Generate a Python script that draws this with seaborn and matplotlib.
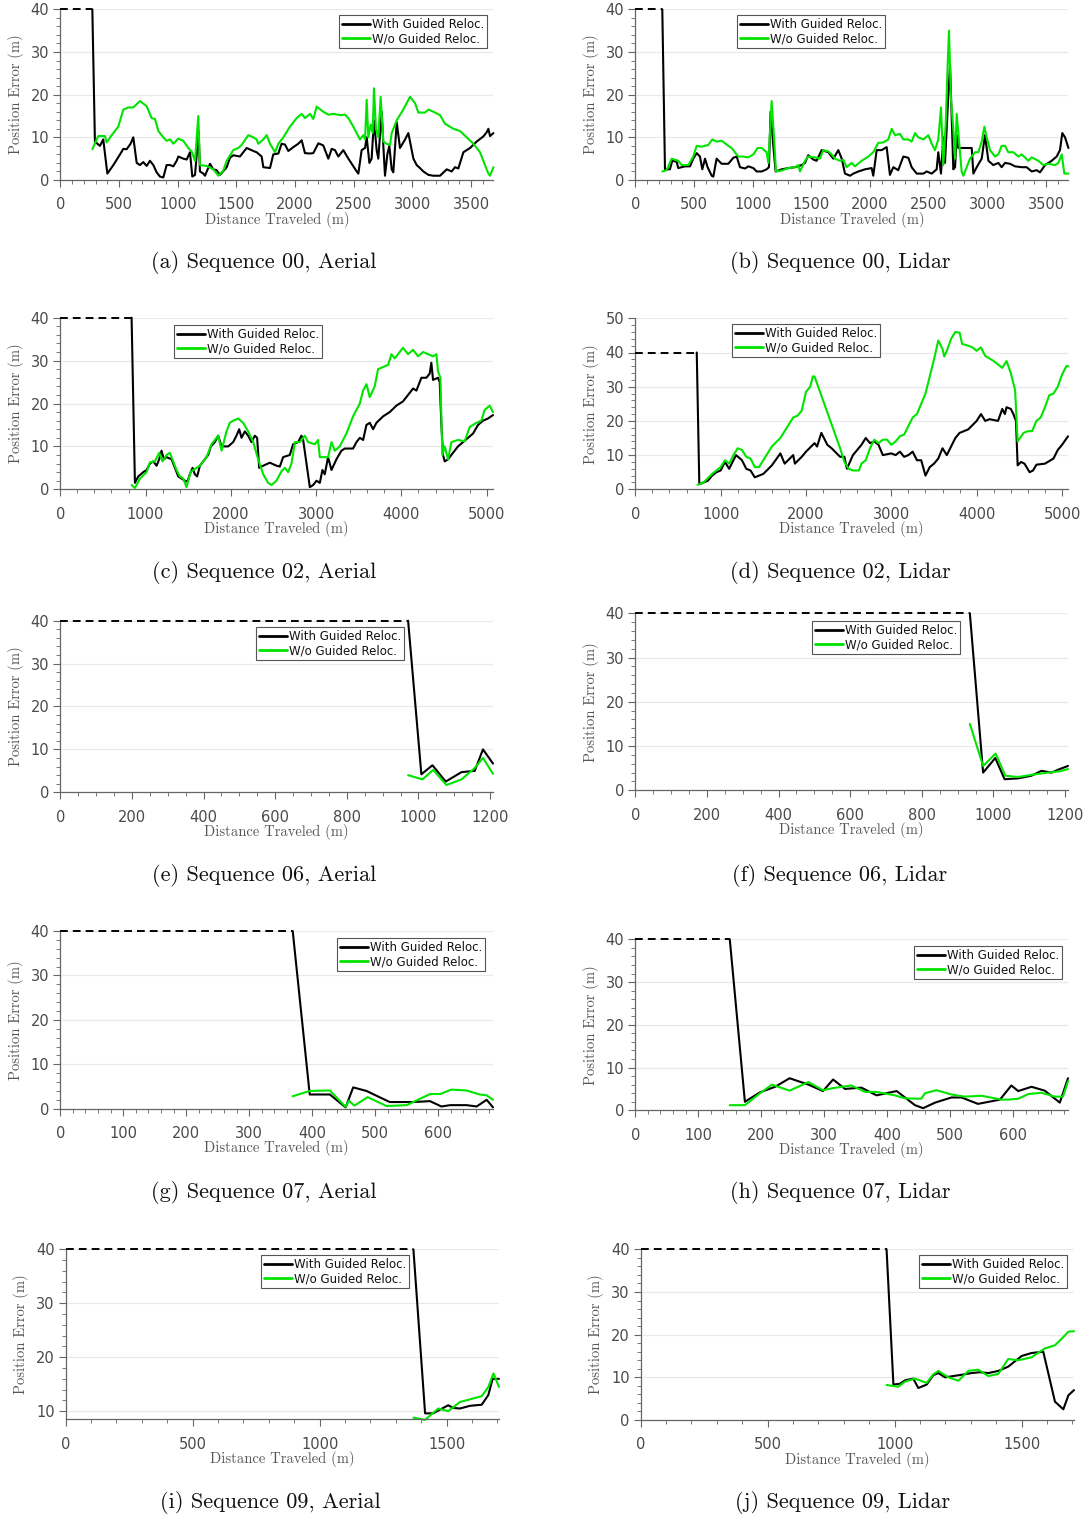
import matplotlib
matplotlib.use("Agg")
import matplotlib.pyplot as plt
from matplotlib.lines import Line2D
from matplotlib.ticker import MultipleLocator
import numpy as np
import pandas as pd
import seaborn as sns

WITH = "With Guided Reloc."
WO = "W/o Guided Reloc."
CAP = 40  # error value shown while the vehicle is not yet localised

captions = [
    "(a) Sequence 00, Aerial", "(b) Sequence 00, Lidar",
    "(c) Sequence 02, Aerial", "(d) Sequence 02, Lidar",
    "(e) Sequence 06, Aerial", "(f) Sequence 06, Lidar",
    "(g) Sequence 07, Aerial", "(h) Sequence 07, Lidar",
    "(i) Sequence 09, Aerial", "(j) Sequence 09, Lidar",
]

# distance at which localisation first succeeds (dashed segment before it)
lost_until = [273, 230, 836, 720, 971, 934, 369, 150, 1369, 968]

# ---------------- Sequence 00, Aerial ----------------
a_with_x = [273, 295, 338, 366, 401, 452, 509, 537, 565, 599, 622, 651, 679, 707, 736, 764, 793, 821, 849, 878,
            906, 935, 963, 992, 1006, 1048, 1077, 1105, 1125, 1148, 1179, 1190, 1219, 1233, 1276, 1304, 1332, 1361,
            1418, 1446, 1474, 1531, 1588, 1645, 1673, 1716, 1730, 1787, 1815, 1858, 1886, 1915, 1943, 1986, 2028,
            2057, 2085, 2128, 2156, 2199, 2241, 2284, 2313, 2341, 2369, 2412, 2455, 2526, 2540, 2568, 2597, 2611,
            2634, 2653, 2673, 2696, 2710, 2739, 2753, 2767, 2787, 2804, 2824, 2838, 2867, 2895, 2938, 2966, 3009,
            3037, 3065, 3094, 3137, 3179, 3236, 3293, 3335, 3364, 3392, 3435, 3492, 3548, 3605, 3634, 3648, 3662, 3691]
a_with_y = [40, 9, 8, 9.5, 1.5, 3.5, 6, 7.3, 7.2, 8.5, 10, 4, 3.5, 4.2, 3.3, 4.5, 3.5, 1.8, 0.8, 0.6,
            3.5, 3.5, 3.2, 4.5, 5.5, 5, 4.8, 6.5, 0.8, 1.2, 11.3, 2, 1.5, 1.0, 3.8, 2.5, 2.3, 1.2,
            3, 5.2, 5.8, 5.5, 7.5, 6.8, 6.5, 5.5, 3, 2.8, 6, 6.2, 8.5, 8.3, 6.8, 7.7, 8.5,
            9.3, 6.3, 6.2, 6.3, 8.6, 8.1, 5, 7.3, 7, 5.5, 7, 5, 2, 1.5, 7, 7.5, 10,
            4, 5, 14, 7, 5, 16, 8, 1, 6, 8, 2.5, 1.8, 13.5, 7.5, 9.5, 11, 5,
            3.5, 2.8, 2, 1.2, 1, 1, 2.5, 2, 3, 2.7, 6.5, 7.5, 9, 10.2, 11.2, 12, 10.3, 11]
a_wo_x = [273, 310, 324, 381, 395, 438, 494, 537, 580, 622, 679, 736, 778, 807, 835, 878, 906, 935, 963, 1006,
          1048, 1091, 1119, 1148, 1176, 1190, 1247, 1304, 1347, 1389, 1418, 1474, 1517, 1545, 1602, 1645, 1673,
          1688, 1730, 1759, 1787, 1830, 1858, 1901, 1957, 2014, 2057, 2085, 2128, 2156, 2185, 2241, 2284, 2327,
          2384, 2426, 2455, 2497, 2554, 2582, 2597, 2611, 2625, 2645, 2662, 2673, 2690, 2710, 2730, 2753, 2781,
          2810, 2824, 2867, 2923, 2980, 3023, 3051, 3108, 3137, 3179, 3236, 3278, 3350, 3406, 3463, 3520, 3577,
          3619, 3648, 3662, 3691]
a_wo_y = [7.2, 9.5, 10.3, 10.3, 8.8, 10.5, 12.5, 16.5, 17, 17, 18.5, 17.3, 14.5, 14.3, 11.5, 10, 9.2, 9.5, 8.5, 9.7,
          9.2, 7.5, 6.7, 4.5, 15, 3.5, 3.3, 2.5, 1.0, 2.2, 4.5, 7, 7.5, 8.2, 10.5, 10, 9.5,
          8.5, 9.5, 10.5, 8.5, 6.5, 8.5, 10, 12.5, 14.5, 15.5, 14.5, 15.5, 14.3, 17.2, 16, 15.3, 15.5,
          15.2, 15.3, 14.5, 12.5, 9.5, 10.5, 9.5, 18.8, 10, 13, 11, 21.5, 12, 10, 19.5, 9, 8.5,
          8.2, 11, 14, 16.5, 19.5, 18, 15.8, 15.8, 16.5, 16, 15.2, 13.2, 12, 11.5, 10, 8.5, 6.5,
          3.5, 1.5, 1.0, 3]

# ---------------- Sequence 00, Lidar ----------------
b_with_x = [230, 253, 295, 315, 352, 366, 395, 423, 466, 494, 523, 551, 571, 594, 616, 651, 665, 693, 736, 793,
            835, 864, 892, 935, 963, 1006, 1034, 1077, 1119, 1139, 1153, 1176, 1196, 1247, 1304, 1361, 1418, 1446,
            1474, 1517, 1545, 1588, 1645, 1673, 1688, 1730, 1759, 1787, 1830, 1858, 1901, 1957, 2014, 2028, 2057,
            2099, 2142, 2170, 2199, 2241, 2284, 2327, 2355, 2398, 2455, 2483, 2526, 2568, 2582, 2605, 2625, 2639,
            2668, 2682, 2696, 2710, 2725, 2739, 2753, 2824, 2867, 2881, 2909, 2952, 2980, 3009, 3051, 3094, 3122,
            3151, 3193, 3236, 3293, 3335, 3378, 3420, 3449, 3492, 3548, 3591, 3619, 3639, 3662, 3691]
b_with_y = [40, 2.5, 2.5, 4.5, 4.3, 2.8, 3.0, 3.2, 3.2, 5, 6.3, 5.5, 2.5, 5, 3, 1, 0.8, 5, 3.8, 3.8,
            5.2, 5.5, 3, 2.7, 3.2, 2.8, 2, 2, 2.5, 3, 16, 8, 2, 2.5, 2.8, 3, 3.5, 4,
            5.8, 4.8, 4.5, 7, 6.5, 5.5, 5, 7, 5, 1.5, 1, 1.5, 2, 2.5, 2.8, 1, 7,
            7, 7.7, 1.2, 3, 2.3, 5.5, 5.2, 3, 1.5, 1.5, 2, 1.5, 2.5, 6.5, 1.5, 10, 4,
            20, 27, 15, 2.5, 3, 10.5, 7.5, 7.5, 7.5, 1.5, 3, 5, 10.5, 4.5, 3.5, 4, 3,
            4, 3.8, 3.2, 3, 3, 2, 2.3, 1.8, 3.5, 4.5, 5.5, 7, 11, 10, 7.5]
b_wo_x = [230, 267, 310, 366, 395, 452, 494, 523, 565, 622, 656, 693, 736, 793, 821, 849, 878, 920, 963, 1006,
          1043, 1077, 1119, 1134, 1162, 1182, 1199, 1247, 1304, 1361, 1389, 1403, 1446, 1474, 1531, 1574, 1602,
          1645, 1673, 1702, 1744, 1773, 1801, 1844, 1872, 1929, 1986, 2028, 2071, 2114, 2156, 2185, 2213, 2256,
          2284, 2327, 2355, 2384, 2412, 2455, 2497, 2526, 2554, 2582, 2605, 2625, 2645, 2662, 2673, 2690, 2710,
          2725, 2739, 2753, 2781, 2796, 2824, 2852, 2895, 2923, 2952, 2975, 2994, 3023, 3065, 3094, 3122, 3151,
          3179, 3222, 3264, 3293, 3350, 3378, 3435, 3477, 3520, 3577, 3605, 3634, 3656, 3691]
b_wo_y = [2, 2.3, 5, 4.5, 3.5, 3.5, 5.5, 8, 7.8, 8.2, 9.5, 9, 9.2, 8, 7.5, 6.5, 5.5, 5.5, 5.3, 6,
          7.5, 7.5, 6.5, 4, 18.5, 10, 2, 2.2, 2.8, 3, 3.5, 2, 4.5, 5.5, 5.3, 5, 7,
          6.7, 6, 5, 4.5, 4.7, 3, 4, 3.2, 4.5, 5.5, 6.5, 8.7, 8.8, 9.5, 12, 10.5, 10.8,
          9.5, 9.5, 9, 11, 10, 9.5, 10.5, 8.5, 7, 9.5, 17, 3.5, 13, 27, 35, 19, 12,
          5, 15.5, 11, 2, 1, 3, 5, 6.5, 6.5, 9, 12.5, 10, 7, 5.5, 6, 8, 8,
          6.5, 6.5, 5.5, 6, 4.5, 5.3, 4.5, 3.5, 3.8, 3.5, 4, 6, 1.5, 1.5]

# ---------------- Sequence 02, Aerial ----------------
c_with_x = [836, 875, 914, 973, 1012, 1051, 1090, 1129, 1160, 1187, 1215, 1246, 1305, 1344, 1383, 1422, 1461, 1492,
            1519, 1551, 1578, 1605, 1637, 1695, 1734, 1766, 1812, 1851, 1891, 1930, 1969, 2027, 2066, 2098, 2125,
            2164, 2203, 2242, 2281, 2308, 2332, 2379, 2457, 2535, 2574, 2613, 2691, 2730, 2789, 2828, 2848, 2887,
            2926, 2965, 3004, 3043, 3074, 3101, 3140, 3180, 3238, 3297, 3336, 3394, 3433, 3473, 3512, 3551, 3590,
            3629, 3668, 3707, 3785, 3863, 3941, 4019, 4078, 4137, 4176, 4234, 4293, 4332, 4351, 4371, 4429, 4449,
            4469, 4488, 4508, 4547, 4605, 4664, 4722, 4781, 4840, 4898, 4957, 5015, 5074]
c_with_y = [40, 1.5, 3, 4, 4.5, 6, 6.5, 5.5, 7, 9, 7, 7.5, 7, 5, 3, 2.5, 2, 1.8,
            3.5, 5, 3.5, 3, 5.5, 7, 8, 10, 11, 12.5, 10, 10, 10, 11, 12.5, 14, 12,
            13.5, 12.5, 11, 12.5, 12, 5, 5.5, 6.2, 5.5, 5.3, 7.5, 8, 10.5, 11, 12.5, 11.5, 6,
            0.5, 1, 2, 1.5, 4.5, 3.5, 7.5, 4.5, 7, 9, 9.5, 9.5, 9.5, 11, 12, 11.5, 15,
            15.5, 14, 15.5, 17, 18, 19.5, 20.5, 22, 23.5, 23, 26, 26, 27, 29.5, 25.5, 26, 25,
            15, 8, 6.5, 7, 8.5, 10, 11, 12, 13, 15, 16, 16.5, 17.3]
c_wo_x = [836, 875, 934, 1012, 1051, 1109, 1160, 1199, 1246, 1285, 1324, 1363, 1402, 1441, 1480, 1527, 1559, 1637,
          1715, 1773, 1851, 1891, 1949, 1988, 2027, 2086, 2144, 2203, 2262, 2320, 2379, 2437, 2476, 2535, 2594,
          2633, 2672, 2711, 2750, 2808, 2867, 2906, 2984, 3023, 3043, 3140, 3180, 3219, 3277, 3355, 3433, 3512,
          3551, 3590, 3629, 3687, 3726, 3785, 3844, 3883, 3922, 3980, 4019, 4078, 4137, 4195, 4254, 4312, 4371,
          4410, 4429, 4457, 4480, 4508, 4547, 4586, 4664, 4742, 4800, 4879, 4937, 4976, 5035, 5074]
c_wo_y = [1, 0.3, 2.5, 4, 6.3, 6.5, 8.5, 6.5, 8, 8.5, 6.5, 4.5, 3, 2.5, 0.5, 4, 4.5, 5.5,
          7.5, 10.5, 12.5, 9, 13.5, 15.5, 16, 16.5, 15.5, 13.5, 11, 7, 3.5, 1.5, 1, 2, 4.2,
          5, 4, 6, 11, 11, 12.5, 11, 10.5, 11.5, 7.5, 7.5, 11, 9, 10, 13, 17, 20,
          23, 24.5, 21.5, 24, 28, 28.5, 29, 31.5, 30.5, 32, 33, 31.5, 32.5, 31, 32, 31.5, 31,
          31.5, 27.5, 26, 8, 10, 7, 11, 11.5, 11.2, 14.5, 15.5, 16, 18.5, 19.5, 18]

# ---------------- Sequence 02, Lidar ----------------
d_with_x = [720, 750, 800, 850, 900, 950, 1000, 1050, 1100, 1180, 1250, 1300, 1350, 1400, 1450, 1500, 1600, 1700,
            1750, 1850, 1870, 1950, 2000, 2100, 2130, 2180, 2250, 2300, 2400, 2450, 2480, 2550, 2650, 2700, 2750,
            2800, 2850, 2900, 3000, 3050, 3100, 3150, 3200, 3250, 3300, 3350, 3400, 3450, 3500, 3550, 3600, 3650,
            3700, 3750, 3800, 3900, 4000, 4050, 4100, 4150, 4250, 4300, 4330, 4350, 4400, 4430, 4460, 4480, 4520,
            4560, 4620, 4660, 4700, 4800, 4900, 4950, 5000, 5070]
d_with_y = [40, 1.5, 2, 2.5, 4, 5, 5.5, 8, 6, 10, 8.5, 6, 5.5, 3.5, 4, 4.5, 7, 10.5,
            7.5, 10, 7.5, 9.5, 11, 13.5, 12.5, 16.5, 13, 12, 9.5, 9.5, 6, 10, 13, 15, 13.5,
            14, 13, 10, 10.5, 10, 11, 9.5, 10, 11, 8.5, 8.5, 4, 6.5, 7.5, 9, 12, 10,
            12.5, 15, 16.5, 17.5, 20, 22, 20, 20.5, 20, 23.5, 22, 24, 23.5, 22, 20, 7, 8,
            7.5, 5, 5.5, 7.2, 7.5, 9, 11.5, 13, 15.5]
d_wo_x = [730, 800, 900, 1000, 1050, 1100, 1150, 1200, 1250, 1300, 1350, 1400, 1450, 1500, 1600, 1700, 1800, 1850,
          1900, 1950, 2000, 2050, 2080, 2100, 2200, 2300, 2400, 2450, 2500, 2550, 2620, 2650, 2700, 2750, 2800,
          2850, 2900, 2950, 3000, 3050, 3100, 3150, 3200, 3250, 3300, 3400, 3450, 3500, 3550, 3600, 3620, 3650,
          3700, 3750, 3800, 3830, 3900, 3950, 4000, 4050, 4100, 4200, 4300, 4350, 4400, 4450, 4480, 4550, 4600,
          4650, 4700, 4750, 4800, 4850, 4900, 4950, 5000, 5050, 5074]
d_wo_y = [1.3, 2, 4.5, 6.5, 8.5, 7.5, 10, 12, 11.5, 9.5, 9, 6.5, 6.5, 8.5, 12.5, 15, 19, 21,
          21.5, 23, 28.5, 30, 33, 33, 26, 19, 12, 8, 6, 5.5, 5.5, 7.5, 8.5, 12, 14.5,
          13.5, 14.5, 14.5, 13, 14, 15.5, 16, 18.5, 21, 22, 28, 33, 38, 43.5, 41, 38.8, 40.5,
          44, 46, 45.8, 42.5, 42, 41.5, 40.5, 41.5, 39, 37.5, 35.5, 37.5, 34, 29, 14, 16.5, 17,
          17, 20, 21, 24, 27.5, 28, 30, 33.5, 36, 36]

# ---------------- Sequence 06 ----------------
e_with_x = [971, 1008, 1039, 1076, 1120, 1157, 1180, 1208]
e_with_y = [40, 4.2, 6.3, 2.5, 4.7, 5, 10, 6.7]
e_wo_x = [971, 1011, 1041, 1078, 1120, 1155, 1180, 1208]
e_wo_y = [4, 3, 5.2, 1.7, 3, 5.5, 8, 4.3]

f_with_x = [934, 971, 1005, 1031, 1069, 1106, 1134, 1162, 1185, 1208]
f_with_y = [40, 4, 7.3, 2.5, 2.7, 3.3, 4.4, 4, 4.8, 5.5]
f_wo_x = [934, 971, 1006, 1033, 1069, 1106, 1153, 1185, 1208]
f_wo_y = [15, 5.5, 8.3, 3.3, 3.0, 3.5, 4.0, 4.3, 4.8]

# ---------------- Sequence 07 ----------------
g_with_x = [369, 396, 428, 453, 465, 486, 523, 560, 587, 605, 619, 645, 661, 677, 687]
g_with_y = [40, 3.2, 3.2, 0.3, 4.8, 4.0, 1.5, 1.5, 1.7, 0.5, 0.8, 0.8, 0.5, 2.0, 0.3]
g_wo_x = [369, 396, 428, 453, 458, 467, 488, 518, 550, 587, 603, 621, 645, 666, 677, 687]
g_wo_y = [2.8, 4.0, 4.1, 0.4, 1.8, 0.7, 2.6, 0.6, 0.8, 3.3, 3.3, 4.3, 4.1, 3.2, 3.0, 2.0]

h_with_x = [150, 174, 198, 222, 245, 275, 298, 314, 333, 359, 383, 415, 444, 457, 476, 502, 518, 544, 579, 597,
            608, 629, 650, 674, 687]
h_with_y = [40, 2, 4.2, 5.5, 7.5, 6, 4.5, 7.2, 5, 5.3, 3.5, 4.5, 1.2, 0.5, 1.8, 3, 3.0, 1.5, 2.5, 5.8,
            4.5, 5.5, 4.6, 1.8, 7.5]
h_wo_x = [150, 174, 198, 217, 245, 275, 298, 314, 343, 365, 383, 412, 428, 454, 460, 478, 502, 523, 550, 581,
          592, 608, 624, 645, 666, 679, 687]
h_wo_y = [1.2, 1.2, 4.0, 6, 4.6, 6.6, 4.7, 5.2, 5.8, 4.3, 4.3, 3.5, 2.8, 2.7, 4.0, 4.7, 3.7, 3.2, 3.4, 2.5,
          2.5, 2.7, 3.8, 4.1, 3.2, 3.2, 6.8]

# ---------------- Sequence 09 ----------------
i_with_x = [1369, 1415, 1447, 1474, 1506, 1526, 1552, 1592, 1638, 1664, 1681, 1706]
i_with_y = [40, 9.6, 9.6, 10.3, 11.1, 10.6, 10.5, 11, 11.2, 13, 16, 16]
i_wo_x = [1369, 1415, 1467, 1506, 1552, 1592, 1638, 1664, 1684, 1706]
i_wo_y = [8.8, 8.4, 10.5, 10.0, 11.7, 12.2, 12.8, 14.5, 17, 14.5]

j_with_x = [968, 995, 1021, 1041, 1073, 1093, 1126, 1152, 1172, 1198, 1231, 1264, 1303, 1336, 1369, 1408, 1447,
            1500, 1539, 1585, 1631, 1664, 1684, 1706]
j_with_y = [40, 8.3, 8.5, 9.3, 9.7, 7.5, 8.3, 10.5, 11, 10, 10.3, 10.6, 11, 11.2, 11, 11.5, 12.5,
            15, 15.7, 16, 4.3, 2.5, 5.8, 7]
j_wo_x = [968, 1014, 1041, 1080, 1126, 1152, 1172, 1211, 1251, 1290, 1329, 1369, 1408, 1447, 1487, 1539, 1592,
          1631, 1657, 1684, 1706]
j_wo_y = [8.2, 7.8, 9.0, 9.7, 8.7, 10.7, 11.5, 10, 9.2, 11.5, 11.8, 10.3, 10.8, 14.3, 14, 14.7, 16.8,
          17.5, 19, 20.7, 20.8]

# axis ranges and tick spacing for each panel
x_max = [3690, 3690, 5074, 5070, 1208, 1208, 687, 687, 1706, 1706]
y_range = [(0, 40), (0, 40), (0, 40), (0, 50), (0, 40), (0, 40), (0, 40), (0, 40), (8.5, 40), (0, 40)]
x_major = [500, 500, 1000, 1000, 200, 200, 100, 100, 500, 500]

series = [
    (a_with_x, a_with_y, a_wo_x, a_wo_y), (b_with_x, b_with_y, b_wo_x, b_wo_y),
    (c_with_x, c_with_y, c_wo_x, c_wo_y), (d_with_x, d_with_y, d_wo_x, d_wo_y),
    (e_with_x, e_with_y, e_wo_x, e_wo_y), (f_with_x, f_with_y, f_wo_x, f_wo_y),
    (g_with_x, g_with_y, g_wo_x, g_wo_y), (h_with_x, h_with_y, h_wo_x, h_wo_y),
    (i_with_x, i_with_y, i_wo_x, i_wo_y), (j_with_x, j_with_y, j_wo_x, j_wo_y),
]

# ---------------- layout (pixels) ----------------
W, H = 1086, 1517
axes_px = [  # left, right, top, bottom
    (60.3, 493.3, 9.3, 180.0), (635.3, 1068.3, 9.3, 180.0),
    (60.3, 493.0, 317.7, 489.3), (635.3, 1068.0, 318.3, 489.3),
    (60.3, 493.0, 620.7, 792.3), (635.3, 1068.0, 613.3, 790.3),
    (60.3, 493.0, 931.0, 1108.7), (635.3, 1068.0, 939.3, 1110.3),
    (65.7, 499.0, 1249.3, 1419.3), (640.7, 1074.0, 1249.3, 1420.0),
]
legend_px = [(339, 15), (737, 15), (174, 325), (732, 324), (256, 627),
             (812, 621), (337, 938), (914, 946), (261, 1255), (919, 1255)]
caption_px = [(264, 262), (840, 262), (264, 572), (840, 572), (264, 875),
              (840, 875), (264, 1192), (840, 1192), (270, 1502), (843, 1502)]
ylabel_x_px = [16, 591, 16, 591, 16, 591, 16, 591, 21, 596]

BLACK = "#000000"
GREEN = "#00e400"
TXT = "#4a4a4a"

sns.set_theme(style="ticks")
plt.rcParams["font.family"] = ["DejaVu Sans"]

fig = plt.figure(figsize=(W / 100, H / 100), dpi=100)

for k in range(10):
    L, R, T, B = axes_px[k]
    ax = fig.add_axes([L / W, 1 - B / H, (R - L) / W, (B - T) / H])
    wx, wy, ox, oy = series[k]
    df = pd.concat([
        pd.DataFrame({"dist": wx, "err": wy, "method": WITH}),
        pd.DataFrame({"dist": ox, "err": oy, "method": WO}),
    ], ignore_index=True)
    sns.lineplot(data=df, x="dist", y="err", hue="method", hue_order=[WITH, WO],
                 palette={WITH: BLACK, WO: GREEN}, estimator=None, sort=False,
                 linewidth=1.5, legend=False, ax=ax)
    for ln in ax.lines:
        ln.set_clip_on(False)
    # not yet localised: error shown at the cap value
    ax.plot([0, lost_until[k]], [CAP, CAP], color=BLACK, lw=1.4, ls=(0, (4, 2.6)),
            zorder=3, clip_on=False)

    ax.set_xlim(0, x_max[k])
    ax.set_ylim(*y_range[k])
    ax.xaxis.set_major_locator(MultipleLocator(x_major[k]))
    ax.xaxis.set_minor_locator(MultipleLocator(x_major[k] / (4 if x_major[k] == 200 else 5)))
    ax.yaxis.set_major_locator(MultipleLocator(10))
    ax.yaxis.set_minor_locator(MultipleLocator(2))

    for side in ("top", "right"):
        ax.spines[side].set_visible(False)
    for side in ("left", "bottom"):
        ax.spines[side].set_color("#666666")
        ax.spines[side].set_linewidth(0.9)
    ax.tick_params(which="major", direction="out", length=5, width=0.8, color="#666666",
                   labelsize=10.5, labelcolor=TXT)
    ax.tick_params(axis="x", which="major", pad=7.5)
    ax.tick_params(axis="y", which="major", pad=3)
    ax.tick_params(which="minor", direction="out", length=3, width=0.7, color="#777777")
    ax.yaxis.grid(True, which="major", color="#e9e9e9", lw=0.9)
    ax.xaxis.grid(False)
    ax.set_axisbelow(True)

    ax.set_xlabel("Distance Traveled (m)", family="cmr10", fontsize=10.5, color="#555555")
    ax.set_ylabel("Position Error (m)", family="cmr10", fontsize=10.5, color="#555555")
    ax.xaxis.label.set_va("center")
    ax.yaxis.label.set_va("center")
    xlab_y = B + 39.5
    ax.xaxis.set_label_coords(0.5, (B - xlab_y) / (B - T))
    ax.yaxis.set_label_coords((ylabel_x_px[k] - L) / (R - L), 0.5)

    handles = [Line2D([], [], color=BLACK, lw=2), Line2D([], [], color=GREEN, lw=2)]
    lx, ly = legend_px[k]
    leg = ax.legend(handles, [WITH, WO], loc="upper left",
                    bbox_to_anchor=(lx / W, 1 - ly / H), bbox_transform=fig.transFigure,
                    borderaxespad=0, fontsize=8.5, frameon=True, fancybox=False,
                    framealpha=1, edgecolor="#555555", handlelength=2.4,
                    handletextpad=0.15, borderpad=0.25, labelspacing=0.1)
    leg.get_frame().set_linewidth(0.8)
    for t in leg.get_texts():
        t.set_color("#111111")

    cx, cy = caption_px[k]
    fig.text(cx / W, 1 - cy / H, captions[k], family="cmr10", fontsize=16,
             ha="center", va="center", color="#111111")

fig.savefig("out.png", dpi=100)
